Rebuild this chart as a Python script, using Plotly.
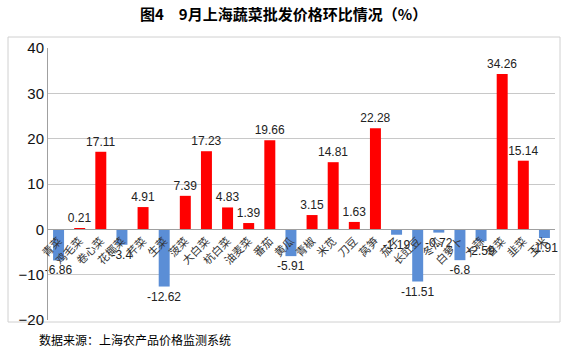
import plotly.graph_objects as go

categories = ["青菜", "鸡毛菜", "卷心菜", "花椰菜", "芹菜", "生菜", "菠菜", "大白菜",
              "杭白菜", "油麦菜", "番茄", "黄瓜", "青椒", "米苋", "刀豆", "莴笋",
              "茄子", "长豇豆", "冬瓜", "白萝卜", "大蒜", "香菜", "韭菜", "玉米"]
values = [-6.86, 0.21, 17.11, -3.4, 4.91, -12.62, 7.39, 17.23,
          4.83, 1.39, 19.66, -5.91, 3.15, 14.81, 1.63, 22.28,
          -1.19, -11.51, -0.72, -6.8, -2.59, 34.26, 15.14, -1.91]
y_ticks = [-20, -10, 0, 10, 20, 30, 40]

POS = "#FF0000"
NEG = "#5B8ED6"
colors = [POS if v >= 0 else NEG for v in values]
texts = [f"{v:g}" for v in values]

fig = go.Figure()
fig.add_trace(go.Bar(
    x=categories, y=values, marker_color=colors, marker_line_width=0,
    width=0.52, text=texts, textposition="outside", cliponaxis=False,
    constraintext="none",
    textfont=dict(family="Liberation Sans, Arial", size=12, color="#222222"),
))

L, R, T, B = 48, 12, 48, 31
W, H = 567, 351
pw, ph = W - L - R, H - T - B
ymin, ymax = -20, 40
zero_pos = (0 - ymin) / (ymax - ymin)

fig.update_layout(
    width=W, height=H, margin=dict(l=L, r=R, t=T, b=B),
    paper_bgcolor="white", plot_bgcolor="white", showlegend=False,
    bargap=0.48,
    xaxis=dict(anchor="free", position=zero_pos, showline=True, linecolor="#A0A0A0",
               linewidth=1, tickangle=-45, ticks="", showgrid=False,
               tickfont=dict(family="Noto Sans CJK SC", size=11, color="#333333")),
    yaxis=dict(range=[ymin, ymax], tickvals=y_ticks, showgrid=True, gridcolor="#C8C8C8",
               gridwidth=1, zeroline=False, showline=True, linecolor="#A0A0A0",
               ticks="", tickfont=dict(family="Liberation Sans, Arial", size=15, color="#111111")),
)

def px_x(px):
    return (px - L) / pw

def px_y(py):
    return (H - B - py) / ph

fig.add_shape(type="rect", xref="paper", yref="paper",
              x0=px_x(8), x1=px_x(560), y0=px_y(322), y1=px_y(37),
              line=dict(color="#D0D0D0", width=1), fillcolor="rgba(0,0,0,0)", layer="below")

fig.add_annotation(text="<b>图4　9月上海蔬菜批发价格环比情况（%）</b>", xref="paper", yref="paper",
                   x=px_x(283), y=px_y(13), showarrow=False, xanchor="center", yanchor="middle",
                   font=dict(family="Noto Sans CJK SC", size=15, color="#000000"))
fig.add_annotation(text="数据来源：上海农产品价格监测系统", xref="paper", yref="paper",
                   x=px_x(37), y=px_y(339), showarrow=False, xanchor="left", yanchor="middle",
                   font=dict(family="Noto Sans CJK SC", size=12, color="#000000"))

fig.write_html("out.html")
